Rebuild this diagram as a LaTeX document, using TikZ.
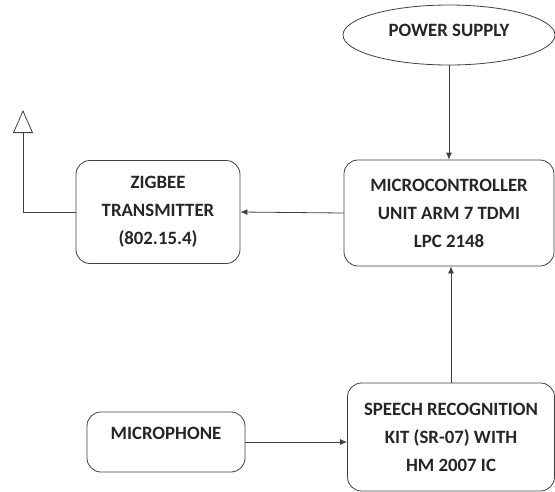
\documentclass[tikz,border=0pt]{standalone}
\usepackage{fontspec}
\setmainfont{Carlito}
\usetikzlibrary{shapes.geometric,arrows.meta}
\definecolor{linegray}{HTML}{404040}
\definecolor{textgray}{HTML}{262626}
\tikzset{
  blk/.style={draw=linegray, rounded corners=14pt, align=center, text=textgray,
    font=\fontsize{18.8}{28}\selectfont\bfseries},
  arr/.style={draw=linegray, -{Latex[length=7pt,width=6pt]}}
}
\begin{document}
\begin{tikzpicture}[x=1pt, y=-1pt, line width=0.8pt]
\useasboundingbox (0,0) rectangle (555,491);
\node[blk, ellipse, rounded corners=0pt, minimum width=212pt, minimum height=60pt, text depth=9pt, inner sep=0pt] (ps) at (449,35){POWER SUPPLY};
\node[blk, minimum width=210pt, minimum height=106pt] (mcu) at (449,213){MICROCONTROLLER\\UNIT ARM 7 TDMI\\LPC 2148};
\node[blk, minimum width=164pt, minimum height=103pt] (zig) at (158,212){ZIGBEE\\TRANSMITTER\\(802.15.4)};
\node[blk, minimum width=158pt, minimum height=60pt, text depth=18pt] (mic) at (166,442){MICROPHONE};
\node[blk, minimum width=207pt, minimum height=108pt] (sr) at (451,437){SPEECH RECOGNITION\\KIT (SR-07) WITH\\HM 2007 IC};
\coordinate (ant) at (23,110);
\draw[arr](ps.south) -- (ps.south |- mcu.north);
\draw[arr](mcu.west) -- (zig.east);
\draw[draw=linegray, -{Triangle[open,length=23pt,width=20pt]}](zig.west) -| (ant);
\draw[arr](mic.east) -- (sr.west |- mic.east);
\draw[arr](sr.north) -- (sr.north |- mcu.south);
\end{tikzpicture}
\end{document}
